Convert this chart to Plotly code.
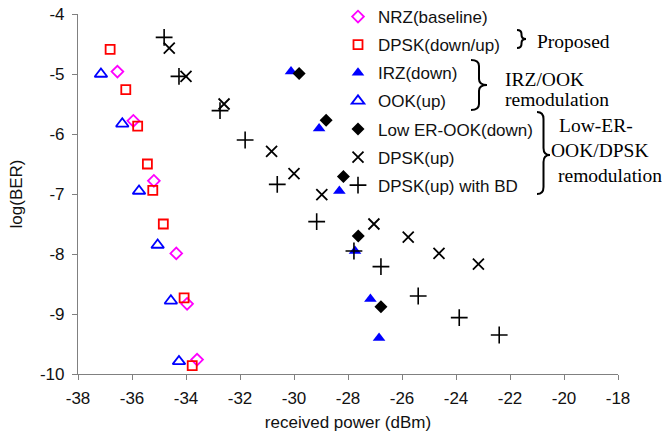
import plotly.graph_objects as go

# ---- data ----
nrz_x = [-36.54, -35.95, -35.19, -34.36, -33.96, -33.59]
nrz_y = [-4.96, -5.78, -6.78, -7.99, -8.83, -9.76]

dpsk_du_x = [-36.81, -36.23, -35.79, -35.43, -35.23, -34.84, -34.07, -33.77]
dpsk_du_y = [-4.59, -5.26, -5.87, -6.50, -6.94, -7.50, -8.73, -9.86]

irz_x = [-30.11, -29.07, -28.32, -27.74, -27.17, -26.85]
irz_y = [-4.96, -5.91, -6.95, -7.95, -8.75, -9.40]

ook_x = [-37.15, -36.36, -35.74, -35.05, -34.56, -34.26]
ook_y = [-5.00, -5.83, -6.95, -7.85, -8.78, -9.79]

lower_x = [-29.81, -28.81, -28.17, -27.62, -26.78]
lower_y = [-4.99, -5.77, -6.71, -7.70, -8.88]

dpsk_up_x = [-34.62, -34.00, -32.59, -30.83, -30.00, -28.97, -27.04, -25.77, -24.63, -23.17]
dpsk_up_y = [-4.57, -5.04, -5.50, -6.29, -6.66, -7.01, -7.50, -7.72, -7.99, -8.17]

dpsk_bd_x = [-34.81, -34.26, -32.74, -31.81, -30.62, -29.16, -27.78, -26.78, -25.40, -23.88, -22.40]
dpsk_bd_y = [-4.39, -5.04, -5.61, -6.10, -6.84, -7.46, -7.95, -8.21, -8.70, -9.06, -9.35]

x_ticks = [-38, -36, -34, -32, -30, -28, -26, -24, -22, -20, -18]
y_ticks = [-4, -5, -6, -7, -8, -9, -10]

# ---- figure ----
W, H = 662, 436
ML, MR, MT, MB = 78, 44, 14, 62
PW, PH = W - ML - MR, H - MT - MB


def px(x):
    return (x - ML) / PW


def py(y):
    return (H - MB - y) / PH


series = [
    ("NRZ(baseline)", nrz_x, nrz_y, "diamond-open", "#FF00FF", 9, 1.8),
    ("DPSK(down/up)", dpsk_du_x, dpsk_du_y, "square-open", "#FF0000", 9, 1.8),
    ("IRZ(down)", irz_x, irz_y, "triangle-up", "#0000FF", 11, 0),
    ("OOK(up)", ook_x, ook_y, "triangle-up-open", "#0000FF", 11, 1.8),
    ("Low ER-OOK(down)", lower_x, lower_y, "diamond", "#000000", 10, 0),
    ("DPSK(up)", dpsk_up_x, dpsk_up_y, "x-thin", "#000000", 11, 1.8),
    ("DPSK(up) with BD", dpsk_bd_x, dpsk_bd_y, "cross-thin", "#000000", 12, 1.6),
]

fig = go.Figure()
for name, xs, ys, sym, col, size, lw in series:
    marker = dict(symbol=sym, size=size, color=col)
    if lw:
        marker["line"] = dict(color=col, width=lw)
    fig.add_trace(go.Scatter(x=xs, y=ys, mode="markers", name=name,
                             legendgroup=name, marker=marker, cliponaxis=False))


def brace(x0, xtip, ytop, ybot, ymid, r=6):
    xm = (x0 + xtip) / 2

    def P(x, y):
        return f"{px(x):.5f},{py(y):.5f}"
    d = (f"M {P(x0, ytop)} Q {P(xm, ytop)} {P(xm, ytop + r)} "
         f"L {P(xm, ymid - r)} Q {P(xm, ymid)} {P(xtip, ymid)} "
         f"Q {P(xm, ymid)} {P(xm, ymid + r)} L {P(xm, ybot - r)} "
         f"Q {P(xm, ybot)} {P(x0, ybot)}")
    return dict(type="path", xref="paper", yref="paper", path=d,
                line=dict(color="black", width=2))


shapes = [
    brace(517, 526, 30, 48, 39, r=4),
    brace(471, 487, 60, 110, 85, r=6),
    brace(537, 550, 112, 194, 155, r=7),
]

serif = dict(family="Liberation Serif, Times New Roman, serif", size=19.5, color="black")
ann_items = [
    ("Proposed", 535, 42),
    ("IRZ/OOK", 503, 79),
    ("remodulation", 503, 99),
    ("Low-ER-", 557, 125),
    ("OOK/DPSK", 549, 150),
    ("remodulation", 556, 175),
]
annotations = [dict(text=t, x=px(x), y=py(y), xref="paper", yref="paper",
                    xanchor="left", yanchor="middle", showarrow=False, font=serif)
               for t, x, y in ann_items]

sans = "Liberation Sans, Arial, sans-serif"
axis_common = dict(showline=True, linecolor="#808080", linewidth=1.2,
                   ticks="outside", ticklen=5, tickcolor="#808080",
                   showgrid=False, zeroline=False, mirror=False, automargin=False,
                   tickfont=dict(family=sans, size=17, color="#111111"))

fig.update_layout(
    width=W, height=H,
    margin=dict(l=ML, r=MR, t=MT, b=MB, autoexpand=False),
    paper_bgcolor="white", plot_bgcolor="white",
    font=dict(family=sans, size=16, color="#111111"),
    xaxis=dict(range=[-38, -18], tickvals=x_ticks, ticktext=[str(v) for v in x_ticks],
               title=dict(text="received power (dBm)", standoff=9, font=dict(size=17)),
               ticklabelstandoff=3, **axis_common),
    yaxis=dict(range=[-10, -4], tickvals=y_ticks, ticktext=[str(v) for v in y_ticks],
               title=dict(text="log(BER)", standoff=12, font=dict(size=17)),
               ticklabelstandoff=4, **axis_common),
    showlegend=True,
    legend=dict(x=px(338), y=py(-1), xanchor="left", yanchor="top",
                bgcolor="rgba(0,0,0,0)", borderwidth=0, tracegroupgap=3,
                font=dict(family=sans, size=17, color="#111111"),
                itemsizing="trace"),
    shapes=shapes,
    annotations=annotations,
)

fig.write_html("out.html", config={"displayModeBar": False},
               post_script="document.body.style.margin='0';document.body.style.overflow='hidden';")
